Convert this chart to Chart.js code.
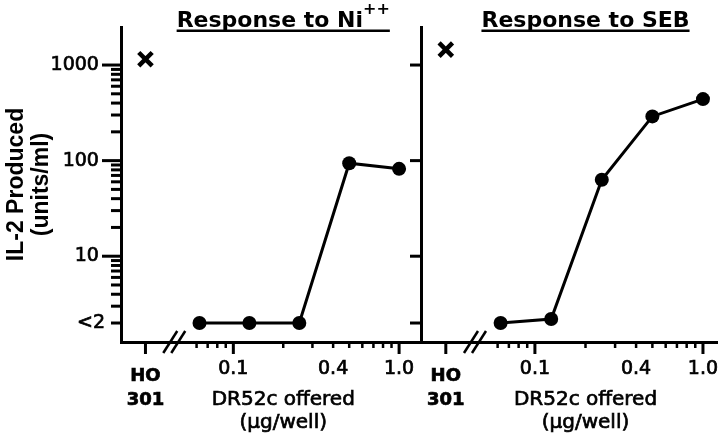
<!DOCTYPE html>
<html>
<head>
<meta charset="utf-8">
<script src="https://cdn.jsdelivr.net/npm/chart.js@4"></script>
<style>
  html, body { margin: 0; padding: 0; background: #fff; }
  #wrap { position: relative; width: 720px; height: 437px; overflow: hidden; background: #fff; }
  #wrap canvas { position: absolute; top: 0; }
  #niChart { left: 0; }
  #sebChart { left: 405px; }
</style>
</head>
<body>
<div id="wrap">
  <canvas id="niChart" width="426" height="437"></canvas>
  <canvas id="sebChart" width="315" height="437"></canvas>
</div>
<script>
// DR52c offered (ug/well), doubling series
const doses = [0.0625, 0.125, 0.25, 0.5, 1.0];
const niResponse = [2, 2, 2, 94, 82];
const sebResponse = [2, 2.2, 63, 290, 440];

// HO 301 control (marked with x)
const hoDose = 0.0295;
const hoNi = 1150;
const hoSeb = 1450;

const yTickValues = [2, 10, 100, 1000];
const yTickLabels = ['<2', '10', '100', '1000'];
const yMinorTicks = [3, 4, 5, 6, 7, 8, 9, 20, 30, 40, 50, 60, 70, 80, 90, 200, 300, 400, 500, 600, 700, 800, 900];

const xTickValues = [hoDose, 0.1, 0.4, 1.0];
const xTickLabels = [['HO', '301'], '0.1', '0.4', '1.0'];
const xMajorTicks = [hoDose, 0.1, 1.0];
const xMinorTicks = [0.06, 0.07, 0.08, 0.09, 0.2, 0.3, 0.4, 0.5, 0.6, 0.7, 0.8, 0.9];
const xBreakAt = 0.044;

const panelTitles = ['Response to Ni', 'Response to SEB'];
const panelSup = ['++', ''];
const xAxisTitle = ['DR52c offered', '(\u00b5g/well)'];
const yAxisTitle = ['IL-2 Produced', '(units/ml)'];

const FONT = "'DejaVu Sans', sans-serif";

// ticks, axis break, panel title and x title
const panelDecor = {
   id: 'panelDecor',
   afterDraw(chart, args, opts) {
      const ctx = chart.ctx;
      const area = chart.chartArea;
      const x = chart.scales.x;
      const y = chart.scales.y;
      ctx.save();
      ctx.strokeStyle = '#000';
      ctx.fillStyle = '#000';

      const yTick = (v, len) => {
         const py = y.getPixelForValue(v);
         ctx.beginPath();
         ctx.moveTo(area.left, py);
         ctx.lineTo(area.left - len, py);
         ctx.stroke();
      };
      const xTick = (v, len) => {
         const px = x.getPixelForValue(v);
         ctx.beginPath();
         ctx.moveTo(px, area.bottom);
         ctx.lineTo(px, area.bottom + len);
         ctx.stroke();
      };

      ctx.lineWidth = 3;
      opts.yMajor.forEach(v => yTick(v, opts.yMajorLen));
      opts.yMinor.forEach(v => yTick(v, opts.yMinorLen));
      xMajorTicks.forEach(v => xTick(v, 12));
      ctx.lineWidth = 2.5;
      xMinorTicks.forEach(v => xTick(v, 6));

      // the // break between HO 301 and the dose range
      const bx = x.getPixelForValue(xBreakAt);
      [-4, 4].forEach(d => {
         ctx.beginPath();
         ctx.moveTo(bx + d - 7, area.bottom + 11);
         ctx.lineTo(bx + d + 7, area.bottom - 11);
         ctx.stroke();
      });

      // underlined panel title
      const cx = x.getPixelForValue(opts.titleAt);
      const mainFont = 'bold 22px ' + FONT;
      const supFont = 'bold 16px ' + FONT;
      ctx.textAlign = 'left';
      ctx.textBaseline = 'alphabetic';
      ctx.font = mainFont;
      const w1 = ctx.measureText(opts.title).width;
      ctx.font = supFont;
      const w2 = opts.sup ? ctx.measureText(opts.sup).width : 0;
      const sx = cx - (w1 + w2) / 2;
      ctx.font = mainFont;
      ctx.fillText(opts.title, sx, 27);
      if (opts.sup) {
         ctx.font = supFont;
         ctx.fillText(opts.sup, sx + w1, 14);
      }
      ctx.fillRect(sx, 29.5, w1 + w2, 2.5);

      // x axis title
      ctx.textAlign = 'center';
      ctx.font = '20px ' + FONT;
      ctx.lineWidth = 0.7;
      xAxisTitle.forEach((line, i) => {
         ctx.strokeText(line, cx, 405 + i * 23);
         ctx.fillText(line, cx, 405 + i * 23);
      });
      ctx.restore();
   }
};

function buildPanel(canvasId, cfg) {
   const ctx = document.getElementById(canvasId).getContext('2d');
   return new Chart(ctx, {
      type: 'scatter',
      data: {
         datasets: [{
            data: doses.map((d, i) => ({ x: d, y: cfg.response[i] })),
            showLine: true,
            borderColor: '#000',
            borderWidth: 3,
            pointRadius: 7,
            pointHoverRadius: 7,
            pointBackgroundColor: '#000',
            pointBorderWidth: 0,
            clip: false,
         }, {
            data: [{ x: hoDose, y: cfg.ho }],
            pointStyle: 'crossRot',
            pointRadius: 9.5,
            pointHoverRadius: 9.5,
            pointBorderColor: '#000',
            pointBorderWidth: 4.5,
            clip: false,
         }],
      },
      options: {
         responsive: false,
         animation: false,
         events: [],
         layout: {
            autoPadding: false,
            padding: { top: 27, right: cfg.padRight, left: 0, bottom: 0 },
         },
         plugins: {
            legend: { display: false },
            tooltip: { enabled: false },
            panelDecor: {
               title: cfg.title,
               sup: cfg.sup,
               titleAt: 0.2,
               yMajor: cfg.yMajor,
               yMajorLen: cfg.yMajorLen,
               yMinor: cfg.yMinor,
               yMinorLen: 10,
            },
         },
         scales: {
            x: {
               type: 'logarithmic',
               min: 0.021,
               max: cfg.xMax,
               afterBuildTicks: s => { s.ticks = xTickValues.map(v => ({ value: v })); },
               afterFit: s => { s.height = 95; s.paddingLeft = 0; s.paddingRight = 0; },
               grid: { display: false, drawTicks: false },
               border: { display: true, color: '#000', width: 3 },
               ticks: {
                  autoSkip: false,
                  maxRotation: 0,
                  minRotation: 0,
                  padding: 22.75,
                  color: '#000',
                  textStrokeColor: '#000',
                  textStrokeWidth: 0.7,
                  font: c => (c.tick && c.tick.value === hoDose)
                     ? { family: FONT, size: 18, weight: 'bold', lineHeight: '23.5px' }
                     : { family: FONT, size: 19, lineHeight: '8.5px' },
                  callback: v => {
                     const i = xTickValues.indexOf(v);
                     return i < 0 ? '' : xTickLabels[i];
                  },
               },
            },
            y: {
               type: 'logarithmic',
               min: 1.266,
               max: 2500,
               afterBuildTicks: s => { s.ticks = yTickValues.map(v => ({ value: v })); },
               afterFit: s => { s.width = cfg.yWidth; s.paddingTop = 0; s.paddingBottom = 0; },
               grid: { display: false, drawTicks: false },
               border: { display: true, color: '#000', width: 3 },
               ticks: {
                  display: cfg.yLabels,
                  autoSkip: false,
                  padding: 16,
                  color: '#000',
                  textStrokeColor: '#000',
                  textStrokeWidth: 0.7,
                  font: { family: FONT, size: 19 },
                  callback: v => {
                     const i = yTickValues.indexOf(v);
                     if (i < 0) return '';
                     return v >= 10 ? yTickLabels[i] + ' ' : yTickLabels[i];
                  },
               },
               title: {
                  display: cfg.yLabels,
                  text: yAxisTitle,
                  color: '#000',
                  font: { family: "'Liberation Sans', Arial, sans-serif", size: 23, weight: 'bold', lineHeight: '25px' },
                  padding: { top: 4.5, bottom: 0 },
               },
            },
         },
      },
      plugins: [panelDecor],
   });
}

buildPanel('niChart', {
   response: niResponse,
   ho: hoNi,
   title: panelTitles[0],
   sup: panelSup[0],
   xMax: 1.337,
   padRight: 6,
   yWidth: 121,
   yLabels: true,
   yMajor: [10, 100, 1000],
   yMajorLen: 19,
   yMinor: [2].concat(yMinorTicks),
});

buildPanel('sebChart', {
   response: sebResponse,
   ho: hoSeb,
   title: panelTitles[1],
   sup: panelSup[1],
   xMax: 1.212,
   padRight: 3,
   yWidth: 16,
   yLabels: false,
   yMajor: yTickValues,
   yMajorLen: 11,
   yMinor: [],
});
</script>
</body>
</html>
